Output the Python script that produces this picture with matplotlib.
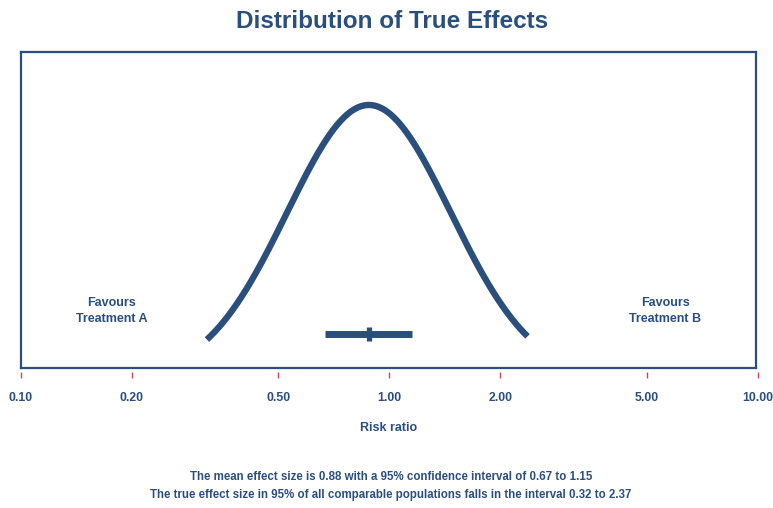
import numpy as np
import matplotlib.pyplot as plt

# summary values
mean_effect = 0.88
ci_low, ci_high = 0.67, 1.15
pi_low, pi_high = 0.32, 2.37
tick_values = [0.10, 0.20, 0.50, 1.00, 2.00, 5.00, 10.00]
tick_labels = ["0.10", "0.20", "0.50", "1.00", "2.00", "5.00", "10.00"]

navy = "#2B4F7D"
tick_red = "#C0504D"
plt.rcParams['font.family'] = ['Liberation Sans', 'DejaVu Sans']
plt.rcParams['font.weight'] = 'bold'

fig = plt.figure(figsize=(7.73, 5.08), dpi=100)
W, H = 773, 508
ax = fig.add_axes([20.7 / W, 1 - 368 / H, (758 - 20.7) / W, (368 - 52) / H])

# normal curve in log space, drawn over the prediction interval
mu = np.log(mean_effect)
sigma = (np.log(pi_high) - np.log(pi_low)) / (2 * 1.96)
x = np.exp(np.linspace(np.log(pi_low), np.log(pi_high), 400))
dens = np.exp(-0.5 * ((np.log(x) - mu) / sigma) ** 2)
ax.plot(x, dens, color=navy, lw=4.6, solid_capstyle='butt')

# confidence interval bar and mean marker
bar_y = 0.161
ax.plot([ci_low, ci_high], [bar_y, bar_y], color=navy, lw=5, solid_capstyle='butt')
ax.plot([mean_effect, mean_effect], [bar_y - 0.024, bar_y + 0.024], color=navy, lw=3.8,
        solid_capstyle='butt')

ax.set_xscale('log')
ax.set_xlim(0.1, 10)
ax.set_ylim(0.0366, 1.194)
ax.set_yticks([])
ax.set_xticks(tick_values)
ax.set_xticklabels(tick_labels)
ax.minorticks_off()
ax.tick_params(axis='x', direction='out', length=4, width=1, color=tick_red,
               labelcolor=navy, labelsize=8.8, pad=10)
for s in ax.spines.values():
    s.set_color(navy)
    s.set_linewidth(1.6)
ax.spines['bottom'].set_visible(False)
ax.spines['right'].set_position(('data', 9.88))
ax.spines['top'].set_bounds(0.1, 9.88)
ax.axhline(0.0366, xmin=0, xmax=np.log10(9.88 / 0.1) / 2, color=navy, lw=1.6, clip_on=False)
ax.xaxis.set_ticks_position('bottom')
ax.spines['bottom'].set_position(('outward', 3))

fig.text(112 / W, 1 - 311 / H, "Favours\nTreatment A", ha='center', va='center',
         color=navy, fontsize=9, linespacing=1.55)
fig.text(665 / W, 1 - 311 / H, "Favours\nTreatment B", ha='center', va='center',
         color=navy, fontsize=9, linespacing=1.55)

fig.text(392 / W, 1 - 22 / H, "Distribution of True Effects", ha='center', va='center',
         color=navy, fontsize=17.5)
fig.text(389 / W, 1 - 428 / H, "Risk ratio", ha='center', va='center', color=navy, fontsize=9)
fig.text(391 / W, 1 - 477 / H,
         "The mean effect size is 0.88 with a 95% confidence interval of 0.67 to 1.15",
         ha='center', va='center', color=navy, fontsize=8.3)
fig.text(391 / W, 1 - 495 / H,
         "The true effect size in 95% of all comparable populations falls in the interval 0.32 to 2.37",
         ha='center', va='center', color=navy, fontsize=8.3)

fig.savefig("out.png", dpi=100, facecolor='white')
